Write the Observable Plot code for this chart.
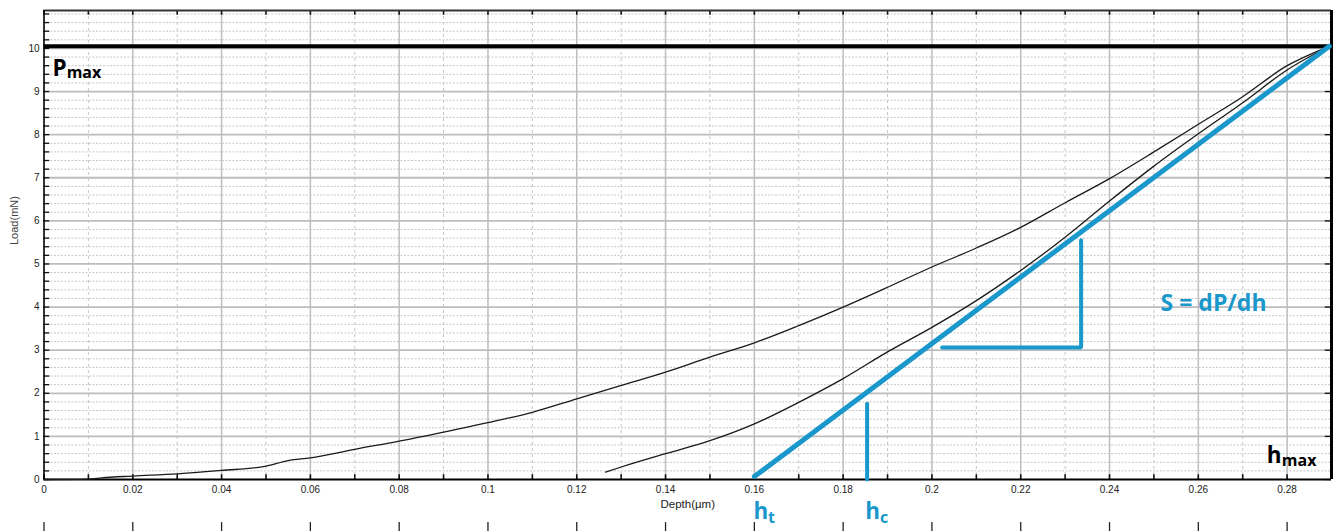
<!DOCTYPE html>
<html><head><meta charset="utf-8">
<script src="https://cdn.jsdelivr.net/npm/d3@7"></script>
<script src="https://cdn.jsdelivr.net/npm/@observablehq/plot@0.6"></script>
<style>html,body{margin:0;padding:0;background:#fff;overflow:hidden}</style>
</head><body><div id="chart"></div>
<script>
// ---- data ----
const loadDepth = [0, 0.01, 0.013, 0.02, 0.03, 0.04, 0.05, 0.055, 0.06, 0.07, 0.08, 0.09, 0.1, 0.11, 0.12, 0.13, 0.14, 0.15, 0.16, 0.17, 0.18, 0.19, 0.2, 0.21, 0.22, 0.23, 0.24, 0.25, 0.26, 0.27, 0.28, 0.2895];
const loadForce = [0, 0.01, 0.04, 0.08, 0.13, 0.21, 0.31, 0.44, 0.50, 0.70, 0.89, 1.10, 1.32, 1.56, 1.87, 2.18, 2.49, 2.84, 3.17, 3.57, 4.00, 4.46, 4.93, 5.37, 5.85, 6.42, 6.98, 7.60, 8.24, 8.88, 9.60, 10.05];
const unloadDepth = [0.1265, 0.13, 0.14, 0.15, 0.16, 0.17, 0.18, 0.19, 0.2, 0.21, 0.22, 0.23, 0.24, 0.25, 0.26, 0.27, 0.28, 0.2895];
const unloadForce = [0.17, 0.29, 0.60, 0.90, 1.29, 1.79, 2.34, 2.96, 3.53, 4.15, 4.85, 5.62, 6.46, 7.27, 8.02, 8.74, 9.50, 10.05];
const pmax = 10.05;
const tangentDepth = [0.16, 0.2895];
const tangentLoad = [0.07, 10.05];
const hcDepth = [0.1854, 0.1854];
const hcLoad = [0, 1.76];
const triDepth = [0.2023, 0.2336, 0.2336];
const triLoad = [3.06, 3.06, 5.55];

const xTicks = [0, 0.02, 0.04, 0.06, 0.08, 0.1, 0.12, 0.14, 0.16, 0.18, 0.2, 0.22, 0.24, 0.26, 0.28];
const xTickLabels = ["0", "0.02", "0.04", "0.06", "0.08", "0.1", "0.12", "0.14", "0.16", "0.18", "0.2", "0.22", "0.24", "0.26", "0.28"];
const yTicks = [0, 1, 2, 3, 4, 5, 6, 7, 8, 9, 10];
const yTickLabels = ["0", "1", "2", "3", "4", "5", "6", "7", "8", "9", "10"];
const xLabel = "Depth(µm)";
const yLabel = "Load(mN)";

// annotations: main letter + subscript
const annoMain = ["P", "h", "h", "h"];
const annoSub = ["max", "max", "t", "c"];
const annoX = [0.0019, 0.2754, 0.1598, 0.1850];
const annoY = [9.37, 0.39, -0.92, -0.92];
const annoSubX = [0.0051, 0.2788, 0.1631, 0.1883];
const annoSubY = [9.32, 0.32, -1.02, -1.02];
const annoColor = ["#000", "#000", "#1a98cc", "#1a98cc"];
const slopeLabel = "S = dP/dh";
const slopeX = 0.2515, slopeY = 4.08;

// ---- tables ----
const BLUE = "#1a98cc";
const X1 = 0.29, Y1 = 10.88;
const loadT = loadDepth.map((d, i) => ({d, f: loadForce[i]}));
const unloadT = unloadDepth.map((d, i) => ({d, f: unloadForce[i]}));
const tanT = tangentDepth.map((d, i) => ({d, f: tangentLoad[i]}));
const hcT = hcDepth.map((d, i) => ({d, f: hcLoad[i]}));
const triT = triDepth.map((d, i) => ({d, f: triLoad[i]}));
const xTickT = xTicks.map((v, i) => ({v, label: xTickLabels[i]}));
const yTickT = yTicks.map((v, i) => ({v, label: yTickLabels[i]}));
const annoT = annoMain.map((t, i) => ({t, s: annoSub[i], x: annoX[i], y: annoY[i], sx: annoSubX[i], sy: annoSubY[i], c: annoColor[i]}));

const xAll = d3.range(0, 29).map(i => i / 100);          // every 0.01
const xOdd = xAll.filter((v, i) => i % 2 === 1);
const yMinor = d3.range(1, 55).map(i => i / 5).filter(v => Math.abs(v - Math.round(v)) > 1e-6 && v < Y1);
const yFifth = d3.range(0, 55).map(i => i / 5).filter(v => v < Y1);

const fontT = "'Open Sans', 'Noto Sans', sans-serif";

const chart = Plot.plot({
  width: 1333, height: 531,
  marginLeft: 43.5, marginRight: 2, marginTop: 10, marginBottom: 52,
  x: {domain: [0, X1], axis: null},
  y: {domain: [0, Y1], axis: null},
  style: {fontFamily: "'Liberation Sans', Arial, sans-serif", background: "#fff", overflow: "visible"},
  marks: [
    // grid
    Plot.ruleY(yMinor, {stroke: "#c6c6c6", strokeWidth: 1, strokeDasharray: "2,1.5"}),
    Plot.ruleX(xOdd, {stroke: "#c6c6c6", strokeWidth: 1, strokeDasharray: "3,3"}),
    Plot.ruleY(yTicks.slice(1), {stroke: "#bdbdbd", strokeWidth: 1.8}),
    Plot.ruleX(xTicks.slice(1), {stroke: "#bdbdbd", strokeWidth: 1.5}),
    // inward ticks
    Plot.ruleX(xAll, {y1: 0, y2: 0.11, stroke: "#111", strokeWidth: 1.6}),
    Plot.ruleX(xAll, {y1: Y1, y2: Y1 - 0.11, stroke: "#111", strokeWidth: 1.6}),
    Plot.ruleY(yFifth, {x1: 0, x2: 0.0013, stroke: "#111", strokeWidth: 1.3}),
    Plot.ruleY(yTicks, {x1: X1, x2: X1 - 0.0014, stroke: "#111", strokeWidth: 1.3}),
    // frame
    Plot.ruleY([Y1], {stroke: "#333", strokeWidth: 2}),
    Plot.ruleY([0], {stroke: "#000", strokeWidth: 2}),
    Plot.ruleX([0], {stroke: "#000", strokeWidth: 1.6}),
    Plot.ruleX([X1], {y1: 0, y2: Y1, stroke: "#000", strokeWidth: 3}),
    // stray tick row below the axis
    Plot.ruleX(xTicks, {y1: -1.0, y2: -1.21, stroke: "#222", strokeWidth: 1.3}),
    // tick labels
    Plot.text(xTickT, {x: "v", y: 0, text: "label", dy: 10, lineAnchor: "middle", fontSize: 10, fill: "#222"}),
    Plot.text(yTickT, {x: 0, y: "v", text: "label", dx: -4.5, textAnchor: "end", lineAnchor: "middle", fontSize: 10, fill: "#222"}),
    Plot.text([xLabel], {frameAnchor: "bottom", dy: 25, lineAnchor: "middle", fontSize: 11.5, fill: "#222"}),
    Plot.text([yLabel], {frameAnchor: "left", dx: -30, rotate: -90, lineAnchor: "middle", fontSize: 11, fill: "#444"}),
    // Pmax line
    Plot.ruleY([pmax], {stroke: "#000", strokeWidth: 4}),
    // curves
    Plot.line(loadT, {x: "d", y: "f", stroke: "#1a1a1a", strokeWidth: 1.3, curve: "monotone-x"}),
    Plot.line(unloadT, {x: "d", y: "f", stroke: "#1a1a1a", strokeWidth: 1.3, curve: "monotone-x"}),
    // blue construction
    Plot.line(tanT, {x: "d", y: "f", stroke: BLUE, strokeWidth: 5}),
    Plot.line(hcT, {x: "d", y: "f", stroke: BLUE, strokeWidth: 4}),
    Plot.line(triT, {x: "d", y: "f", stroke: BLUE, strokeWidth: 4, strokeLinejoin: "miter"}),
    // annotations
    Plot.text(annoT, {x: "x", y: "y", text: "t", fill: "c", textAnchor: "start", lineAnchor: "bottom", fontSize: 22.5, fontWeight: "bold", fontFamily: fontT}),
    Plot.text(annoT, {x: "sx", y: "sy", text: "s", fill: "c", textAnchor: "start", lineAnchor: "bottom", fontSize: 16, fontWeight: "bold", fontFamily: fontT}),
    Plot.text([slopeLabel], {x: slopeX, y: slopeY, textAnchor: "start", lineAnchor: "middle", fontSize: 23, fontWeight: "bold", fill: BLUE, fontFamily: fontT})
  ]
});
document.getElementById("chart").appendChild(chart);
</script>
</body></html>
